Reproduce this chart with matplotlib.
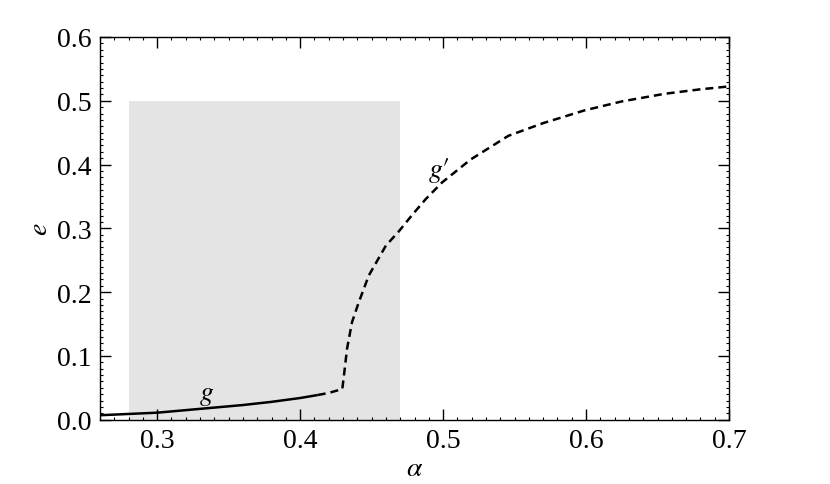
import matplotlib
matplotlib.use("Agg")
import matplotlib.pyplot as plt
from matplotlib.ticker import MultipleLocator
from matplotlib.patches import Rectangle

# ramo g (estável, linha cheia)
alpha_g = [0.26, 0.28, 0.30, 0.32, 0.34, 0.36, 0.38, 0.40, 0.4123]
e_g = [0.007, 0.009, 0.011, 0.015, 0.019, 0.023, 0.028, 0.034, 0.0387]

# ramo g' (tracejado)
alpha_gp = [0.4123, 0.42, 0.4295, 0.4312, 0.4328, 0.4363, 0.4410, 0.4480,
            0.4600, 0.4693, 0.4780, 0.4879, 0.4993, 0.5193, 0.5456, 0.570, 0.599,
            0.625, 0.6551, 0.680, 0.700]
e_gp = [0.0387, 0.042, 0.048, 0.080, 0.111, 0.153, 0.184, 0.226,
        0.273, 0.296, 0.320, 0.346, 0.372, 0.408, 0.445, 0.465, 0.485,
        0.499, 0.511, 0.518, 0.5225]

# região sombreada
faixa_alpha = (0.28, 0.47)
faixa_e = (0.0, 0.5)

plt.rcParams['font.family'] = 'serif'
plt.rcParams['font.serif'] = ['Liberation Serif', 'DejaVu Serif']
plt.rcParams['mathtext.fontset'] = 'stix'

fig = plt.figure(figsize=(8.3, 4.85), dpi=100)
ax = fig.add_axes([100 / 830, 1 - 420.7 / 485, 629 / 830, 382.7 / 485])

ax.add_patch(Rectangle((faixa_alpha[0], faixa_e[0]), faixa_alpha[1] - faixa_alpha[0],
                       faixa_e[1] - faixa_e[0], facecolor='#e4e4e4', edgecolor='none', zorder=0))

ax.plot(alpha_g, e_g, color='black', linewidth=1.8, solid_capstyle='butt')
ax.plot(alpha_gp, e_gp, color='black', linewidth=1.8, dashes=(3.2, 2.0))

ax.text(0.3345, 0.04, r'$g$', fontsize=20, ha='center', va='center')
ax.text(0.497, 0.393, r"$g\prime$", fontsize=20, ha='center', va='center')

ax.set_xlim(0.26, 0.70)
ax.set_ylim(0.0, 0.6)
ax.xaxis.set_major_locator(MultipleLocator(0.1))
ax.xaxis.set_minor_locator(MultipleLocator(0.01))
ax.yaxis.set_major_locator(MultipleLocator(0.1))
ax.yaxis.set_minor_locator(MultipleLocator(0.01))
ax.xaxis.set_major_formatter(plt.FuncFormatter(lambda v, p: f'{v:.1f}'))
ax.yaxis.set_major_formatter(plt.FuncFormatter(lambda v, p: f'{v:.1f}'))

ax.tick_params(which='both', direction='in', top=True, right=True, labelsize=20)
ax.tick_params(which='major', length=7.7, width=1.0, pad=6)
ax.tick_params(which='minor', length=2.3, width=0.8)
for s in ax.spines.values():
    s.set_linewidth(1.0)

ax.set_xlabel(r'$\alpha$', fontsize=20, labelpad=2)
ax.set_ylabel(r'$e$', fontsize=20, labelpad=3)

fig.savefig('out.png', dpi=100)
